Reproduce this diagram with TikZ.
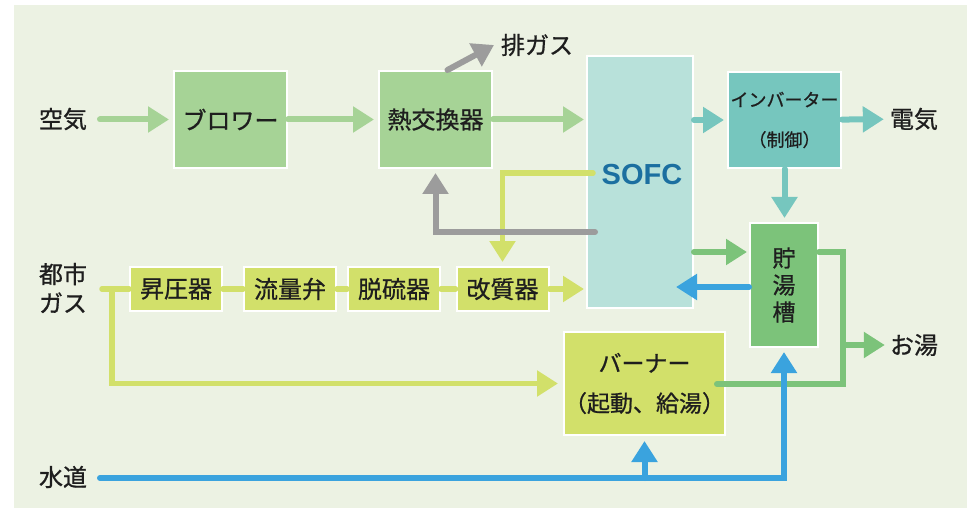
\documentclass[tikz,border=0pt]{standalone}
\usepackage{fontspec}
\setmainfont{Noto Sans CJK JP}[RawFeature={embolden=0.8}]
\newfontfamily\latinfont{Liberation Sans}
\usetikzlibrary{arrows.meta}
\definecolor{bgc}{HTML}{ECF2E3}
\definecolor{lgreen}{HTML}{A6D396}
\definecolor{sofcfill}{HTML}{B8E1DA}
\definecolor{tealc}{HTML}{76C6BE}
\definecolor{tgreen}{HTML}{7CC37A}
\definecolor{yel}{HTML}{D2E06A}
\definecolor{grayc}{HTML}{9C9C9C}
\definecolor{bluec}{HTML}{3AA3DE}
\definecolor{sofctxt}{HTML}{1B6FA0}
\definecolor{txtc}{HTML}{1E1E1E}
\tikzset{
  lbl/.style={font=\fontsize{24}{28}\selectfont, text=txtc, inner sep=0pt, align=center},
  box/.style={draw=white, line width=2pt, inner sep=0pt, align=center,
    font=\fontsize{24}{28}\selectfont, text=txtc},
  pipe/.style={line width=6pt, line cap=round, line join=miter},
  gpipe/.style={line width=5.5pt, line cap=round, line join=miter, draw=yel},
  tip/.style={-{Triangle[length=21pt,width=25pt]}},
}
\begin{document}
\begin{tikzpicture}[x=1pt,y=-1pt]
\useasboundingbox (0,0) rectangle (967,508);
\fill[bgc] (14,5) rectangle (967,508);

% boxes
\node[box, fill=lgreen, minimum width=113pt, minimum height=97pt] (blower) at (230.5,119.5) {ブロワー};
\node[box, fill=lgreen, minimum width=113pt, minimum height=97pt] (hx) at (435.5,119.5) {熱交換器};
\node[box, fill=sofcfill, minimum width=106pt, minimum height=252pt] (sofc) at (640,182) {};
\node[inner sep=0pt, text=sofctxt, font=\latinfont\bfseries\fontsize{29}{32}\selectfont] (sofct) at (642,175) {SOFC};
\node[box, fill=tealc, minimum width=113pt, minimum height=96pt, font=\fontsize{18}{40}\selectfont] (inv) at (784.5,120) {インバーター\\（制御）};
\node[box, fill=tgreen, minimum width=68pt, minimum height=124pt, font=\fontsize{23}{27}\selectfont] (tank) at (784,285) {貯\\湯\\槽};
\node[box, fill=yel, minimum width=159pt, minimum height=103pt, font=\fontsize{23}{40}\selectfont] (burner) at (644.5,383.5) {バーナー\\（起動、給湯）};
\node[box, fill=yel, minimum width=92pt, minimum height=44pt] (boost) at (176,289) {昇圧器};
\node[box, fill=yel, minimum width=92pt, minimum height=44pt] (flow) at (290,289) {流量弁};
\node[box, fill=yel, minimum width=92pt, minimum height=44pt] (desulf) at (394,289) {脱硫器};
\node[box, fill=yel, minimum width=92pt, minimum height=44pt] (reform) at (502.5,289) {改質器};

% labels
\node[lbl] (air) at (63,119) {空気};
\node[lbl] (exhl) at (537,45) {排ガス};
\node[lbl] (elec) at (914,119) {電気};
\node[lbl] (hot) at (914,345) {お湯};
\node[lbl, font=\fontsize{24}{29}\selectfont] (gas) at (63,288) {都市\\ガス};
\node[lbl] (water) at (63,477) {水道};

% coordinates
\coordinate (airS) at (100,119.5);
\coordinate (exh) at (494,45);
\coordinate (tA) at (750,252);
\coordinate (sofcIn) at (676,287);
\coordinate (hwX) at (843,384);
\coordinate (burnerOut) at (717,384);
\coordinate (gasS) at (102,289);
\coordinate (gasB) at (112,289);
\coordinate (sofcY) at (593,173);
\coordinate (sofcG) at (595,232);
\coordinate (wS) at (100,478);

% air line
\draw[pipe,tip,draw=lgreen,shorten >=4pt] (airS) -- (blower.west);
\draw[pipe,tip,draw=lgreen,shorten >=4pt] (blower) -- (hx);
\draw[pipe,tip,draw=lgreen,shorten >=2pt] (hx) -- (sofc.west |- hx);
\draw[pipe,tip,draw=grayc] ([xshift=12pt]hx.north) -- (exh);

% electricity
\draw[pipe,tip,draw=tealc,shorten >=3pt] (sofc.east |- inv) -- (inv);
\draw[pipe,tip,draw=tealc,shorten >=6pt] (inv) -- (elec);
\draw[pipe,tip,draw=tealc,shorten >=4pt] (inv.south) -- (inv.south |- tank.north);

% heat / hot water
\draw[pipe,tip,draw=tgreen,shorten >=2pt] (sofc.east |- tA) -- (tank.west |- tA);
\draw[pipe,tip,draw=bluec] (tank.west |- sofcIn) -- (sofcIn);
\draw[pipe,draw=tgreen] (tank.east |- tA) -| (hwX) -- (burnerOut);
\draw[pipe,tip,draw=tgreen,shorten >=5pt] (hwX |- hot) -- (hot);

% gas line
\draw[gpipe] (gasS) -- (boost);
\draw[gpipe] (boost) -- (flow);
\draw[gpipe] (flow) -- (desulf);
\draw[gpipe] (desulf) -- (reform);
\draw[gpipe,tip,shorten >=2pt] (reform) -- (sofc.west |- reform);
\draw[gpipe,tip,shorten >=5pt] (gasB) |- (burner);
\draw[gpipe,tip,shorten >=4pt] (sofcY) -| (reform.north);

% exhaust recirculation
\draw[pipe,tip,draw=grayc,shorten >=4pt] (sofcG) -| (hx.south);

% water
\draw[pipe,tip,draw=bluec,shorten >=4pt] (wS) -| (tank.south);
\draw[pipe,tip,draw=bluec,shorten >=5pt] (burner.south |- wS) -- (burner.south);
\end{tikzpicture}
\end{document}
